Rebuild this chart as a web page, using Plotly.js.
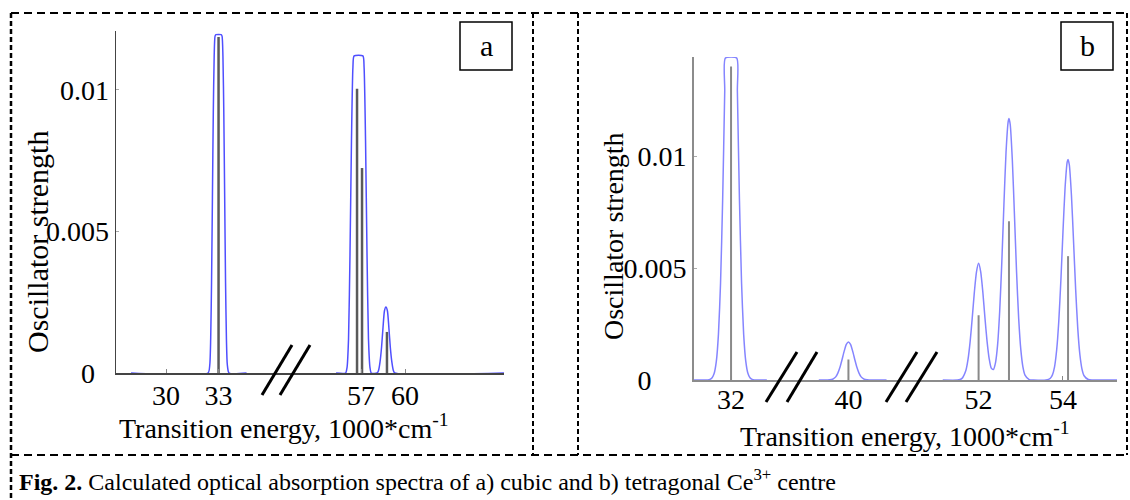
<!DOCTYPE html>
<html>
<head>
<meta charset="utf-8">
<script src="https://cdn.plot.ly/plotly-3.0.1.min.js"></script>
<style>
  html, body { margin: 0; padding: 0; background: #ffffff; }
  #chart { width: 1130px; height: 500px; }
</style>
</head>
<body>
<div id="chart"></div>
<script>
// ---------------- DATA ----------------
// Panel a) cubic centre: calculated lines (energy in 1000 cm^-1, oscillator strength)
const aStickX = [33.0, 56.73, 57.07, 58.77];
const aStickY = [0.01187, 0.01004, 0.00724, 0.00145];
// Panel a) broadened spectrum, part left of the axis break
const aEnvLX = [28.0, 32.4, 32.5, 32.55, 32.6, 32.65, 32.7, 32.75, 32.8, 32.85, 33.15, 33.2, 33.25, 33.3, 33.35, 33.4, 33.45, 33.5, 33.6, 34.6];
const aEnvLY = [0, 0, 0.0003, 0.0012, 0.0032, 0.0062, 0.0092, 0.0112, 0.0119, 0.01195, 0.01195, 0.0119, 0.0112, 0.0092, 0.0062, 0.0032, 0.0012, 0.0003, 0, 0];
// Panel a) broadened spectrum, part right of the axis break
const aEnvRX = [55.3, 55.95, 56.05, 56.15, 56.25, 56.35, 56.45, 56.53, 57.13, 57.21, 57.31, 57.41, 57.51, 57.61, 57.7, 58.1, 58.2, 58.3, 58.4, 58.5, 58.6, 58.7, 58.8, 58.9, 59.0, 59.1, 59.2, 59.3, 66.75];
const aEnvRY = [0, 0, 0.0002, 0.0012, 0.0042, 0.0082, 0.0108, 0.0112, 0.0112, 0.0108, 0.0082, 0.0042, 0.0012, 0.0002, 0, 0, 0.0001, 0.0004, 0.0009, 0.0016, 0.0022, 0.00233, 0.0022, 0.0016, 0.0009, 0.0004, 0.0001, 0, 0];

// Panel b) tetragonal centre: calculated lines
const bStickX = [32.0, 40.0, 52.0, 52.72, 54.12];
const bStickY = [0.01402, 0.00092, 0.0029, 0.0071, 0.00554];
// Panel b) broadened spectrum, three pieces between the axis breaks
const bEnv1X = [31.12, 31.45, 31.5, 31.55, 31.6, 31.65, 31.7, 31.75, 31.8, 31.85, 31.865, 32.135, 32.15, 32.2, 32.25, 32.3, 32.35, 32.4, 32.45, 32.5, 32.55, 32.85];
const bEnv1Y = [0, 0, 0.00003, 0.0001, 0.0003, 0.00083, 0.00203, 0.00432, 0.00802, 0.01294, 0.0144, 0.0144, 0.01294, 0.00802, 0.00432, 0.00203, 0.00083, 0.0003, 0.0001, 0.00003, 0, 0];
const bEnv2X = [39.3, 39.5, 39.55, 39.6, 39.65, 39.7, 39.75, 39.8, 39.85, 39.9, 39.95, 40.0, 40.05, 40.1, 40.15, 40.2, 40.25, 40.3, 40.35, 40.4, 40.45, 40.5, 40.9];
const bEnv2Y = [0, 0, 0.00001, 0.00002, 0.00006, 0.00014, 0.00031, 0.00057, 0.00092, 0.00129, 0.00159, 0.0017, 0.00159, 0.00129, 0.00092, 0.00057, 0.00031, 0.00014, 0.00006, 0.00002, 0.00001, 0, 0];
const bEnv3X = [51.15, 51.5, 51.6, 51.7, 51.75, 51.8, 51.85, 51.9, 51.95, 52.0, 52.05, 52.1, 52.15, 52.2, 52.25, 52.3, 52.35, 52.4, 52.45, 52.5, 52.55, 52.6, 52.65, 52.7, 52.72, 52.75, 52.8, 52.85, 52.9, 52.95, 53.0, 53.05, 53.1, 53.2, 53.3, 53.6, 53.7, 53.75, 53.8, 53.85, 53.9, 53.95, 54.0, 54.05, 54.1, 54.12, 54.15, 54.2, 54.25, 54.3, 54.35, 54.4, 54.45, 54.5, 54.6, 54.7, 55.28];
const bEnv3Y = [0, 0, 0.00006, 0.00044, 0.00093, 0.00173, 0.00279, 0.00394, 0.00484, 0.00522, 0.00484, 0.00394, 0.00279, 0.00174, 0.00096, 0.00053, 0.00047, 0.00077, 0.00157, 0.00309, 0.00527, 0.00785, 0.01019, 0.01155, 0.0117, 0.01142, 0.00981, 0.00736, 0.00481, 0.00274, 0.00137, 0.00059, 0.00022, 0.00002, 0, 0, 0.00008, 0.00023, 0.00059, 0.00134, 0.00262, 0.00446, 0.00665, 0.00862, 0.00976, 0.00987, 0.00963, 0.00828, 0.00621, 0.00406, 0.00231, 0.00114, 0.00049, 0.00019, 0.00002, 0, 0];

// Axis segments (broken energy axis) and ticks
const aSegRanges = [[27.14, 36.74], [51.75, 66.75]];
const aSegTicks = [[30, 33], [57, 60]];
const bSegRanges = [[31.12, 33.40], [38.62, 41.44], [50.36, 55.28]];
const bSegTicks = [[32], [40], [52, 54]];
const yTickVals = [0, 0.005, 0.01];
// the "0" label sits further left than the others in the original
const aYTickText = ['0\u00a0\u00a0', '0.005', '0.01'];
const bYTickText = ['0\u00a0\u00a0\u00a0\u00a0\u00a0', '0.005', '0.01'];
const aYRange = [0, 0.01208];
const bYRange = [0, 0.01445];

const xTitle = 'Transition energy, 1000*cm<sup>-1</sup>';
const yTitle = 'Oscillator strength';
const caption = '<b>Fig. 2.</b> Calculated optical absorption spectra of a) cubic and b) tetragonal Ce<sup>3+</sup> centre';

// ---------------- LAYOUT HELPERS (pixel -> paper) ----------------
const W = 1130, H = 500;
const px = v => v / W;
const py = v => 1 - v / H;
const FONT = 'Liberation Serif, Times New Roman, serif';
const TF = 28;

// segment pixel boundaries
const aSegPx = [[116, 284], [284, 504]];
const bSegPx = [[694, 790], [790, 909.4], [909.4, 1117]];
const aYPx = [31, 373];
const bYPx = [57, 380];

function sticks(xs, ys, range) {
  const sx = [], sy = [];
  xs.forEach((x, i) => {
    if (x >= range[0] && x <= range[1]) { sx.push(x, x, null); sy.push(0, ys[i], null); }
  });
  return { sx, sy };
}

const traces = [];
const layout = {
  width: W, height: H,
  margin: { l: 0, r: 0, t: 0, b: 0 },
  paper_bgcolor: '#ffffff', plot_bgcolor: 'rgba(0,0,0,0)',
  showlegend: false,
  font: { family: FONT, size: TF, color: '#000' },
  shapes: [], annotations: []
};

function xAxisCfg(domPx, range, ticks, anchor, lc, lw, standoff) {
  return {
    domain: [px(domPx[0]), px(domPx[1])], range: range, anchor: anchor,
    showgrid: false, zeroline: false, showline: true, linecolor: lc, linewidth: lw,
    ticks: 'inside', ticklen: 4, tickwidth: 1, tickcolor: '#888',
    tickvals: ticks, ticktext: ticks.map(String),
    ticklabelstandoff: standoff,
    tickfont: { family: FONT, size: TF, color: '#000' },
    fixedrange: true
  };
}
function yAxisCfg(domPx, range, anchor, lc, lw, ticktext) {
  return {
    domain: [py(domPx[1]), py(domPx[0])], range: range, anchor: anchor,
    showgrid: false, zeroline: false, showline: true, linecolor: lc, linewidth: lw,
    ticks: 'inside', ticklen: 3, tickwidth: 1, tickcolor: '#aaa',
    tickvals: yTickVals, ticktext: ticktext,
    tickfont: { family: FONT, size: TF, color: '#000' },
    fixedrange: true
  };
}

// Panel a
const aEnv = [[aEnvLX, aEnvLY], [aEnvRX, aEnvRY]];
aSegRanges.forEach((r, i) => {
  const xa = i === 0 ? 'x' : 'x' + (i + 1);
  const key = i === 0 ? 'xaxis' : 'xaxis' + (i + 1);
  layout[key] = xAxisCfg(aSegPx[i], r, aSegTicks[i], 'y', '#444', 1.5, -3);
  const s = sticks(aStickX, aStickY, r);
  traces.push({ x: s.sx, y: s.sy, xaxis: xa, yaxis: 'y', mode: 'lines',
    line: { color: '#5a5a5a', width: 2.5 }, hoverinfo: 'skip' });
  traces.push({ x: aEnv[i][0], y: aEnv[i][1], xaxis: xa, yaxis: 'y', mode: 'lines',
    line: { color: '#4f4fff', width: 1.5, shape: 'spline', smoothing: 0.6 }, hoverinfo: 'skip' });
});
layout.yaxis = yAxisCfg(aYPx, aYRange, 'x', '#444', 1.5, aYTickText);

// Panel b
const bEnv = [[bEnv1X, bEnv1Y], [bEnv2X, bEnv2Y], [bEnv3X, bEnv3Y]];
bSegRanges.forEach((r, i) => {
  const n = i + 3;
  const xa = 'x' + n;
  layout['xaxis' + n] = xAxisCfg(bSegPx[i], r, bSegTicks[i], 'y2', '#8c8c8c', 2, -7);
  const s = sticks(bStickX, bStickY, r);
  traces.push({ x: s.sx, y: s.sy, xaxis: xa, yaxis: 'y2', mode: 'lines',
    line: { color: '#8a8a8a', width: 2 }, hoverinfo: 'skip' });
  traces.push({ x: bEnv[i][0], y: bEnv[i][1], xaxis: xa, yaxis: 'y2', mode: 'lines',
    line: { color: '#8585ff', width: 1.5, shape: 'spline', smoothing: 0.6 }, hoverinfo: 'skip' });
});
layout.yaxis2 = yAxisCfg(bYPx, bYRange, 'x3', '#8c8c8c', 2, bYTickText);

// ---------------- DECORATIONS ----------------
function pline(x0, y0, x1, y1, color, width, dash) {
  layout.shapes.push({ type: 'line', xref: 'paper', yref: 'paper',
    x0: px(x0), y0: py(y0), x1: px(x1), y1: py(y1),
    line: { color: color, width: width, dash: dash || 'solid' } });
}
// dashed frame of the figure table
const hd = '8px,5px', vd = '5px,3px';
pline(11, 13, 1127, 13, '#000', 2, hd);
pline(11, 455, 1127, 455, '#000', 2, hd);
pline(11, 13, 11, 500, '#000', 2.5, vd);
pline(533, 13, 533, 455, '#000', 2, vd);
pline(578, 13, 578, 455, '#000', 2, vd);
pline(1127, 13, 1127, 455, '#000', 2, vd);

// axis break marks
[[262, 292], [280, 310]].forEach(b => pline(b[0], 395, b[1], 345, '#000', 3));
[[766, 797], [787, 817], [886, 917], [906, 937]].forEach(b => pline(b[0], 402, b[1], 352, '#000', 3));

// panel label boxes
[[460, 512, 'a'], [1061, 1113, 'b']].forEach(b => {
  layout.shapes.push({ type: 'rect', xref: 'paper', yref: 'paper',
    x0: px(b[0]), x1: px(b[1]), y0: py(70), y1: py(22),
    line: { color: '#000', width: 1.5 }, fillcolor: 'rgba(0,0,0,0)' });
  layout.annotations.push({ xref: 'paper', yref: 'paper', x: px((b[0] + b[1]) / 2), y: py(46),
    xanchor: 'center', yanchor: 'middle', text: b[2], showarrow: false,
    font: { family: FONT, size: 30, color: '#000' } });
});

function ann(x, y, text, size, angle, xanchor) {
  layout.annotations.push({ xref: 'paper', yref: 'paper', x: px(x), y: py(y),
    xanchor: xanchor || 'center', yanchor: 'middle', text: text, showarrow: false,
    textangle: angle || 0, font: { family: FONT, size: size, color: '#000' } });
}
ann(284, 426, xTitle, TF);
ann(905, 434, xTitle, TF);
ann(37, 242, yTitle, 30, -90);
ann(613, 236, yTitle, TF, -90);
ann(17, 480, caption, 24, 0, 'left');

Plotly.newPlot('chart', traces, layout, { staticPlot: true, displayModeBar: false });
</script>
</body>
</html>
